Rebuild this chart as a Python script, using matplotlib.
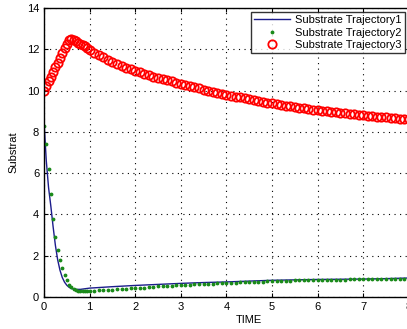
import numpy as np
import matplotlib
matplotlib.use('Agg')
import matplotlib.pyplot as plt

plt.rcParams['font.family'] = ['Liberation Sans', 'DejaVu Sans']

# trajectory 1 (solid line)
t_blue = [0, 0.05, 0.1, 0.15, 0.2, 0.25, 0.3, 0.35, 0.4, 0.45, 0.5, 0.55, 0.6, 0.65,
          0.7, 0.8, 0.9, 1.0, 1.5, 2.0, 2.5, 3.0, 3.5, 4.0, 4.5, 5.0, 5.5, 6.0, 6.5,
          7.0, 7.5, 8.0]
s_blue = [8.5, 6.6, 5.3, 4.4, 3.4, 2.5, 1.8, 1.3, 0.95, 0.72, 0.57, 0.47, 0.41, 0.38,
          0.37, 0.37, 0.40, 0.43, 0.50, 0.56, 0.61, 0.66, 0.70, 0.73, 0.77, 0.81, 0.83,
          0.85, 0.86, 0.87, 0.89, 0.92]

# trajectory 2 (dots)
t_green = [0, 0.05, 0.1, 0.15, 0.2, 0.25, 0.3, 0.35, 0.4, 0.45, 0.5, 0.55, 0.6, 0.65,
           0.7, 0.75, 0.8, 0.85, 0.9, 0.95, 1.0,
           1.1, 1.2, 1.3, 1.4, 1.5, 1.6, 1.7, 1.8, 1.9, 2.0, 2.1, 2.2, 2.3, 2.4, 2.5,
           2.6, 2.7, 2.8, 2.9, 3.0, 3.1, 3.2, 3.3, 3.4, 3.5, 3.6, 3.7, 3.8, 3.9, 4.0,
           4.1, 4.2, 4.3, 4.4, 4.5, 4.6, 4.7, 4.8, 4.9, 5.0, 5.1, 5.2, 5.3, 5.4, 5.5,
           5.6, 5.7, 5.8, 5.9, 6.0, 6.1, 6.2, 6.3, 6.4, 6.5, 6.6, 6.7, 6.8, 6.9, 7.0,
           7.1, 7.2, 7.3, 7.4, 7.5, 7.6, 7.7, 7.8, 7.9, 8.0]
s_green = [8.3, 7.4, 6.2, 5.0, 3.8, 2.9, 2.3, 1.8, 1.4, 1.05, 0.8, 0.6, 0.47, 0.38,
           0.32, 0.29, 0.27, 0.27, 0.27, 0.28, 0.29,
           0.30, 0.32, 0.33, 0.35, 0.36, 0.38, 0.39, 0.40, 0.42, 0.43, 0.45, 0.46, 0.48,
           0.49, 0.51, 0.52, 0.54, 0.55, 0.57, 0.58, 0.59, 0.60, 0.61, 0.62, 0.63, 0.64,
           0.65, 0.66, 0.67, 0.68, 0.69, 0.70, 0.71, 0.72, 0.73, 0.74, 0.75, 0.75, 0.76,
           0.77, 0.78, 0.78, 0.79, 0.79, 0.80, 0.80, 0.81, 0.81, 0.82, 0.82, 0.82, 0.83,
           0.83, 0.84, 0.84, 0.84, 0.85, 0.85, 0.85, 0.85, 0.86, 0.86, 0.86, 0.87, 0.87,
           0.87, 0.87, 0.88, 0.88, 0.88]

# trajectory 3 (circles)
t_red = t_green
s_red = [10.00, 10.22, 10.45, 10.68, 10.90, 11.12, 11.35, 11.58, 11.82, 12.05, 12.28,
         12.45, 12.48, 12.44, 12.38, 12.32, 12.26, 12.20, 12.14, 12.08, 11.95,
         11.83, 11.72, 11.61, 11.50, 11.40, 11.30, 11.20, 11.11, 11.03, 10.95,
         10.88, 10.81, 10.75, 10.68, 10.62, 10.56, 10.50, 10.44, 10.39, 10.33,
         10.27, 10.22, 10.16, 10.11, 10.05, 10.00, 9.95, 9.90, 9.85, 9.80,
         9.75, 9.71, 9.67, 9.62, 9.58, 9.54, 9.50, 9.46, 9.42, 9.38,
         9.34, 9.31, 9.27, 9.24, 9.20, 9.17, 9.14, 9.11, 9.08, 9.05,
         9.02, 9.00, 8.97, 8.95, 8.92, 8.90, 8.87, 8.85, 8.82, 8.80,
         8.78, 8.76, 8.74, 8.72, 8.70, 8.68, 8.66, 8.64, 8.62, 8.60]

labels = ['Substrate Trajectory1', 'Substrate Trajectory2', 'Substrate Trajectory3']

W, H = 407, 329
fig = plt.figure(figsize=(W / 100, H / 100), dpi=100)
ax = fig.add_axes([44 / W, 32 / H, 9 * 45.6 / W, 289 / H])

ax.plot(t_blue, s_blue, '-', color='#1c1c8c', lw=1.0, label=labels[0])
ax.plot(t_green, s_green, '.', color='#1a8a1a', ms=3.5, label=labels[1])
ax.plot(t_red, s_red, 'o', mfc='none', mec='red', mew=1.3, ms=6, label=labels[2])

ax.set_xlim(0, 9)
ax.set_ylim(0, 14)
ax.set_xticks(range(0, 10))
ax.set_yticks(range(0, 15, 2))
ax.tick_params(direction='in', top=True, right=True, labelsize=8, length=3, width=0.8)
ax.grid(True, color='k', linestyle=(0, (1, 4)), lw=0.8)
for s in ax.spines.values():
    s.set_linewidth(1.0)

ax.set_xlabel('TIME', fontsize=8, labelpad=2)
ax.set_ylabel('Substrat', fontsize=8, labelpad=6)

leg = ax.legend(loc='upper right', bbox_to_anchor=(405 / W, 1 - 12 / H),
                bbox_transform=fig.transFigure, fontsize=8, frameon=True,
                fancybox=False, edgecolor='k', borderpad=0.3, labelspacing=0.2,
                handlelength=3.2, handletextpad=0.5, borderaxespad=0)
leg.get_frame().set_linewidth(1.0)

fig.savefig('out.png', dpi=100)
